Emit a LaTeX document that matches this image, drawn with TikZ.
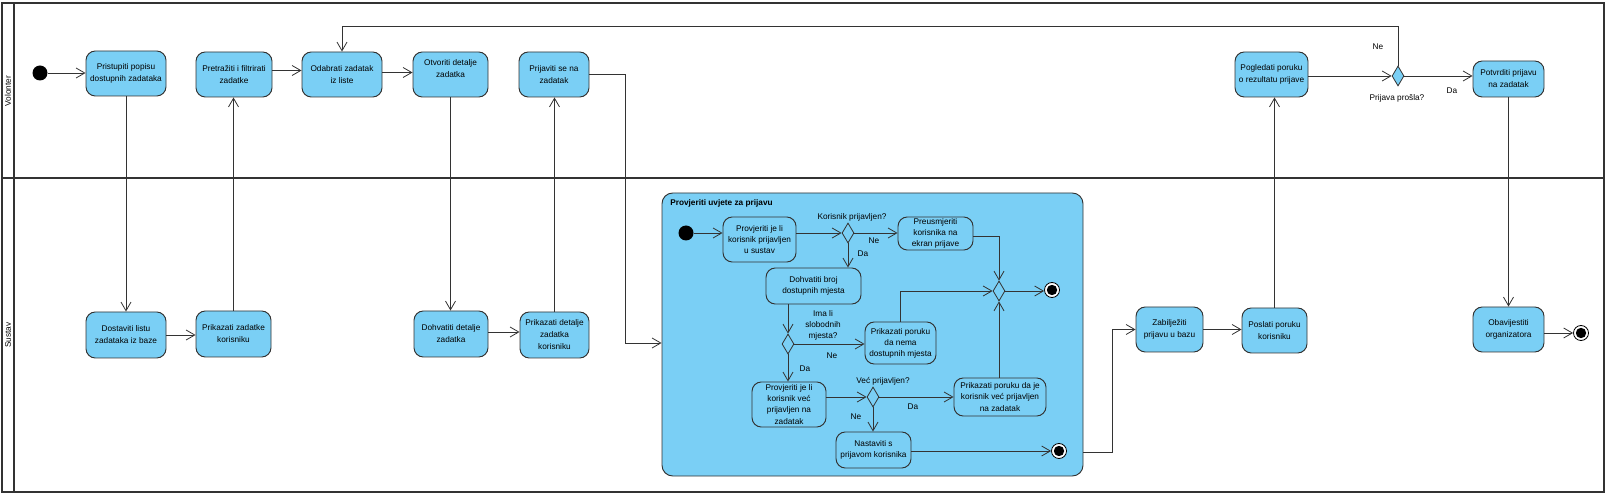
\documentclass[tikz,border=0pt]{standalone}
\usepackage{fontspec}
\setmainfont{Liberation Sans}
\usetikzlibrary{arrows.meta,shapes.geometric,calc}
\definecolor{actblue}{HTML}{7ACFF5}
\definecolor{edgec}{HTML}{333333}
\tikzset{
  act/.style={draw=edgec, fill=actblue, rounded corners=7pt, line width=0.7pt, align=center, inner sep=1pt, font=\fontsize{6.2}{9}\selectfont, text=black},
  iact/.style={act, font=\fontsize{6.2}{8.3}\selectfont},
  sz/.style 2 args={minimum width=#1*0.75pt, minimum height=#2*0.75pt},
  subact/.style={draw=edgec, fill=actblue, rounded corners=8pt, line width=0.7pt},
  decis/.style={diamond, draw=edgec, fill=actblue, line width=0.6pt, inner sep=0pt, minimum width=12*0.75pt, minimum height=20*0.75pt},
  initn/.style={circle, fill=black, inner sep=0pt, minimum size=15*0.75pt},
  finaln/.style={circle, draw=black, fill=white, line width=0.6pt, inner sep=0pt, minimum size=15*0.75pt,
    path picture={\fill[black] (path picture bounding box.center) circle (3.9pt);}},
  flow/.style={draw=edgec, line width=0.6pt, -{Straight Barb[length=6.5pt,width=7.5pt,line width=0.6pt]}},
  lbl/.style={font=\fontsize{6.2}{8.3}\selectfont, inner sep=0pt, align=center},
  frame/.style={draw=edgec, line width=1.1pt},
}
\begin{document}
\begin{tikzpicture}[x=0.75pt,y=-0.75pt]
\useasboundingbox (0,0) rectangle (1607,495);
% swimlanes
\draw[frame] (2,3) rectangle (1604,492);
\draw[frame] (14,3) -- (14,492);
\draw[frame] (2,178) -- (1604,178);
\node[lbl, rotate=90] (laneV) at (8,91) {Volonter};
\node[lbl, rotate=90] (laneS) at (8,335) {Sustav};

% Volonter lane
\node[initn] (i0) at (40,73) {};
\node[act, sz={80}{45}] (pristupiti) at (126,73.5) {Pristupiti popisu\\dostupnih zadataka};
\node[act, sz={76}{45}] (pretraziti) at (234,74.5) {Pretražiti i filtrirati\\zadatke};
\node[act, sz={80}{45}] (odabrati) at (342,74.5) {Odabrati zadatak\\iz liste};
\node[act, sz={75}{45}] (otvoriti) at (450.5,74.5) {Otvoriti detalje\\zadatka\\ };
\node[act, sz={70}{45}] (prijaviti) at (554,74.5) {Prijaviti se na\\zadatak};
\node[act, sz={73}{45}] (pogledati) at (1271.5,74.5) {Pogledati poruku\\o rezultatu prijave};
\node[decis] (dec) at (1398,76) {};
\node[act, sz={71}{36}] (potvrditi) at (1508.5,79) {Potvrditi prijavu\\na zadatak};

% Sustav lane
\node[act, sz={80}{46}] (dostaviti) at (126,335) {Dostaviti listu\\zadataka iz baze};
\node[act, sz={75}{46}] (prikazatiZ) at (233.5,334) {Prikazati zadatke\\korisniku};
\node[act, sz={74}{46}] (dohvatitiD) at (451,334) {Dohvatiti detalje\\zadatka};
\node[act, sz={69}{46}] (prikazatiD) at (554.5,335) {Prikazati detalje\\zadatka\\korisniku};
\node[subact, sz={421}{283}] (sub) at (872.5,334.5) {};
\node[lbl, anchor=west, font=\fontsize{6.2}{8.3}\selectfont\bfseries] (subtitle) at (670,203) {Provjeriti uvjete za prijavu};
\node[act, sz={67}{45}] (zabiljeziti) at (1169.5,329.5) {Zabilježiti\\prijavu u bazu};
\node[act, sz={65}{45}] (poslati) at (1274.5,330.5) {Poslati poruku\\korisniku};
\node[act, sz={71}{45}] (obavijestiti) at (1508.5,329.5) {Obavijestiti\\organizatora};
\node[finaln] (fin0) at (1581,333) {};

% inside sub-activity
\node[initn] (i1) at (686,233) {};
\node[iact, sz={73}{45}] (prov1) at (759.5,239.5) {Provjeriti je li\\korisnik prijavljen\\u sustav};
\node[decis] (d1) at (848,233) {};
\node[iact, sz={75}{33}] (preusm) at (935.5,233.5) {Preusmjeriti\\korisnika na\\ekran prijave};
\node[iact, sz={95}{36}] (dohvBroj) at (813.5,286) {Dohvatiti broj\\dostupnih mjesta};
\node[decis] (merge) at (999,291) {};
\node[finaln] (fin1) at (1052,290) {};
\node[iact, sz={71}{42}] (nema) at (900.5,343) {Prikazati poruku\\da nema\\dostupnih mjesta};
\node[decis] (d2) at (788,344) {};
\node[iact, sz={74}{45}] (provVec) at (789,404.5) {Provjeriti je li\\korisnik već\\prijavljen na\\zadatak};
\node[decis] (d3) at (873,397) {};
\node[iact, sz={92}{38}] (vec) at (1000,397) {Prikazati poruku da je\\korisnik već prijavljen\\na zadatak};
\node[iact, sz={75}{36}] (nastaviti) at (873.5,450) {Nastaviti s\\prijavom korisnika};
\node[finaln] (fin2) at (1059,451) {};

% labels
\node[lbl] (lk) at (852,217) {Korisnik prijavljen?};
\node[lbl] (lne1) at (874,241) {Ne};
\node[lbl] (lda1) at (863,254) {Da};
\node[lbl] (lima) at (823,325) {Ima li\\slobodnih\\mjesta?};
\node[lbl] (lne2) at (832,356) {Ne};
\node[lbl] (lda2) at (805,369) {Da};
\node[lbl] (lvec) at (883,381) {Već prijavljen?};
\node[lbl] (lda3) at (913,407) {Da};
\node[lbl] (lne3) at (856,417) {Ne};
\node[lbl] (lne4) at (1378,47) {Ne};
\node[lbl] (lpp) at (1397,98) {Prijava prošla?};
\node[lbl] (lda4) at (1452,91) {Da};

% coordinates for bends
\coordinate (c1) at (625,343);
\coordinate (c2) at (1112,452);
\coordinate (c3) at (1398,26);
\coordinate (c4) at (999,236);

% connectors, outer
\draw[flow] (i0) -- (i0 -| pristupiti.west);
\draw[flow] (pristupiti) -- (dostaviti);
\draw[flow] (dostaviti.east) -- (dostaviti.east -| prikazatiZ.west);
\draw[flow] (prikazatiZ.north) -- (prikazatiZ.north |- pretraziti.south);
\draw[flow] ($(pretraziti.east)+(0,-4)$) -- ($(pretraziti.east -| odabrati.west)+(0,-4)$);
\draw[flow] ($(odabrati.east)+(0,-2)$) -- ($(odabrati.east -| otvoriti.west)+(0,-2)$);
\draw[flow] (otvoriti.south) -- (otvoriti.south |- dohvatitiD.north);
\draw[flow] ($(dohvatitiD.east)+(0,-2)$) -- ($(dohvatitiD.east -| prikazatiD.west)+(0,-2)$);
\draw[flow] (prikazatiD.north) -- (prikazatiD.north |- prijaviti.south);
\draw[flow] (prijaviti.east) -| (c1) -- (c1 -| sub.west);
\draw[flow] (c2 -| sub.east) -- (c2) |- (zabiljeziti.west);
\draw[flow] (zabiljeziti.east) -- (zabiljeziti.east -| poslati.west);
\draw[flow] (poslati.north) -- (poslati.north |- pogledati.south);
\draw[flow] (dec.west -| pogledati.east) -- (dec.west);
\draw[flow] (dec.east) -- (dec.east -| potvrditi.west);
\draw[flow] (dec.north) -- (c3) -| (odabrati.north);
\draw[flow] (potvrditi.south) -- (potvrditi.south |- obavijestiti.north);
\draw[flow] (fin0.west -| obavijestiti.east) -- (fin0.west);

% connectors, inner
\draw[flow] (i1) -- (i1 -| prov1.west);
\draw[flow] (d1.west -| prov1.east) -- (d1.west);
\draw[flow] (d1.east) -- (d1.east -| preusm.west);
\draw[flow] (d1.south) -- (d1.south |- dohvBroj.north);
\draw[flow] (c4 -| preusm.east) -- (c4) -- (merge.north);
\draw[flow] (dohvBroj.south -| d2.north) -- (d2.north);
\draw[flow] (d2.east) -- (d2.east -| nema.west);
\draw[flow] (nema.north) |- (merge.west);
\draw[flow] (d2.south) -- (d2.south |- provVec.north);
\draw[flow] (d3.west -| provVec.east) -- (d3.west);
\draw[flow] (d3.east) -- (d3.east -| vec.west);
\draw[flow] (d3.south) -- (d3.south |- nastaviti.north);
\draw[flow] (vec.north -| merge.south) -- (merge.south);
\draw[flow] (merge.east) -- (merge.east -| fin1.west);
\draw[flow] (fin2.west -| nastaviti.east) -- (fin2.west);
\end{tikzpicture}
\end{document}
